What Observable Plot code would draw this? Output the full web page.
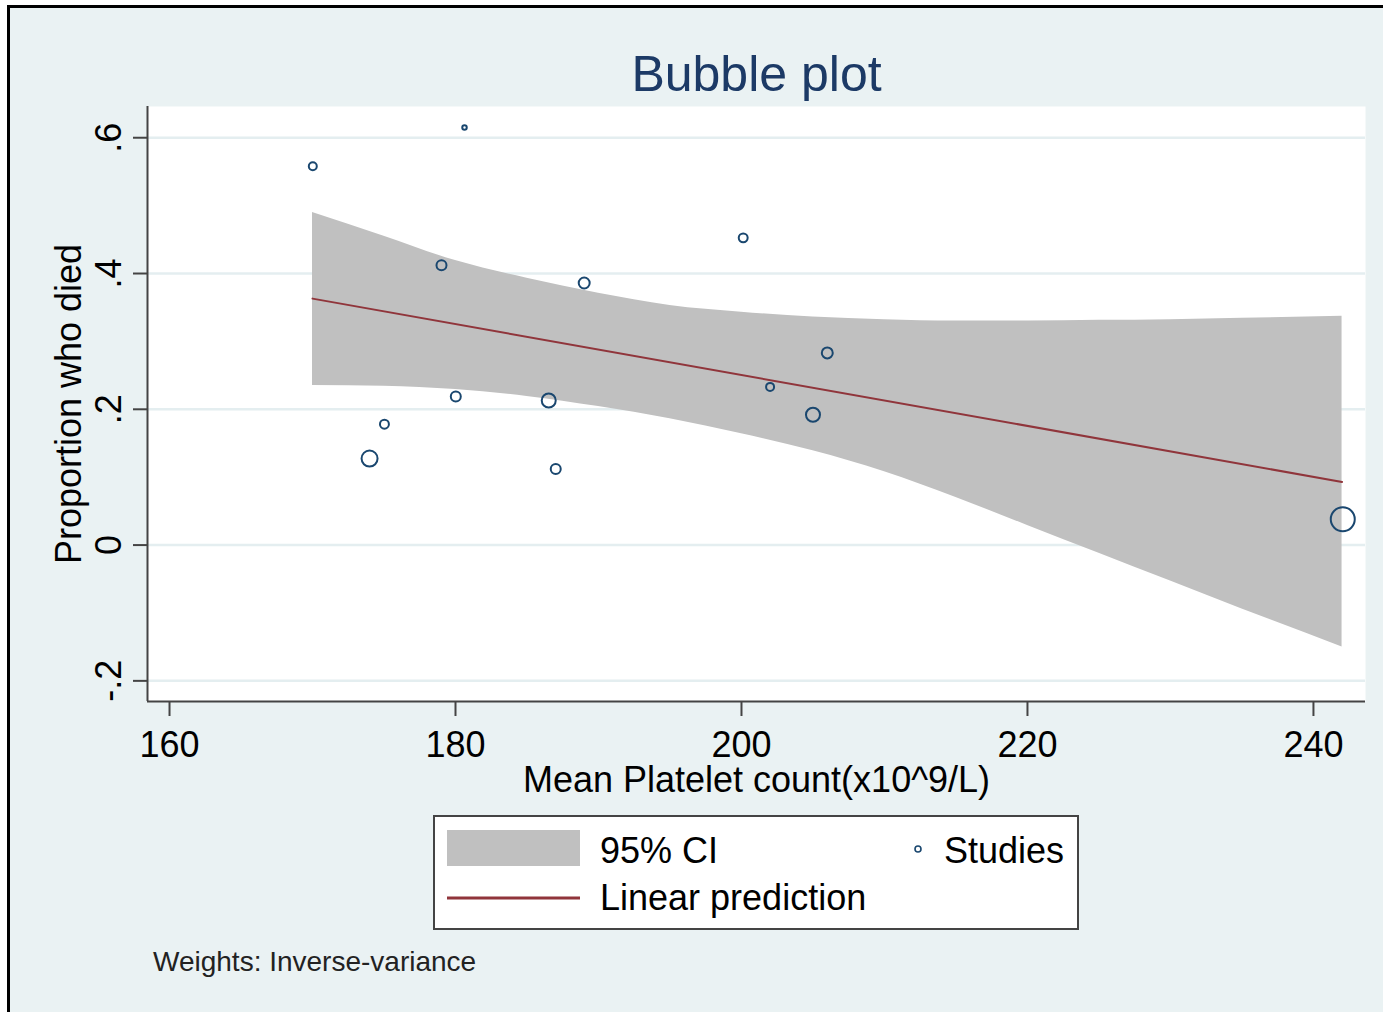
<!DOCTYPE html>
<html>
<head>
<meta charset="utf-8">
<script src="https://cdn.jsdelivr.net/npm/d3@7"></script>
<script src="https://cdn.jsdelivr.net/npm/@observablehq/plot@0.6"></script>
<style>
  html, body { margin: 0; padding: 0; background: #ffffff; width: 1383px; height: 1012px; overflow: hidden;
    font-family: "Liberation Sans", Arial, sans-serif; }
  #page { position: absolute; left: 7px; top: 5px; width: 1400px; height: 1020px; background: #EAF2F3;
    border-left: 3px solid #000; border-top: 3px solid #000; }
  #chart { position: absolute; left: 0; top: 0; }
  #overlay { position: absolute; left: 0; top: 0; }
</style>
</head>
<body>
<div id="page"></div>
<div id="chart"></div>
<script>
// ---- Data ----
const studyX = [170.02, 180.63, 179.02, 189.0, 200.12, 206.0, 202.0, 205.0, 180.02, 186.52, 175.03, 173.99, 187.01, 242.05];
const studyY = [0.558, 0.615, 0.412, 0.386, 0.4525, 0.283, 0.233, 0.192, 0.219, 0.213, 0.178, 0.1275, 0.112, 0.038];
const studyWeight = [16, 5, 25, 30, 20, 30, 16, 49, 25, 49, 20, 64, 25, 144];

const ciX     = [170, 175, 180, 185, 190, 195, 200, 205, 210, 215, 220, 225, 230, 235, 242];
const ciUpper = [0.490, 0.455, 0.419, 0.393, 0.371, 0.353, 0.343, 0.336, 0.332, 0.330, 0.330, 0.331, 0.332, 0.334, 0.337];
const ciLower = [0.235, 0.234, 0.229, 0.219, 0.204, 0.186, 0.164, 0.139, 0.108, 0.070, 0.029, -0.012, -0.053, -0.094, -0.150];

const fitX = [170, 242];
const fitY = [0.363, 0.093];

const xTicks = [160, 180, 200, 220, 240];
const xTickLabels = ["160", "180", "200", "220", "240"];
const yTicks = [-0.2, 0, 0.2, 0.4, 0.6];
const yTickLabels = ["-.2", "0", ".2", ".4", ".6"];
const xDomain = [158.46, 243.64];
const yDomain = [-0.2304, 0.646];

const titleText = "Bubble plot";
const xTitle = "Mean Platelet count(x10^9/L)";
const yTitle = "Proportion who died";
const legendLabels = ["95% CI", "Linear prediction", "Studies"];
const captionText = "Weights: Inverse-variance";

// ---- Tables built from the arrays ----
const studies = studyX.map((x, i) => ({x, y: studyY[i], w: studyWeight[i]}));
const ciTable = ciX.map((x, i) => ({x, lo: ciLower[i], hi: ciUpper[i]}));
const fitTable = fitX.map((x, i) => ({x, y: fitY[i]}));

const colBand = "#C0C0C0", colLine = "#90353B", colDot = "#1A476F", colAxis = "#444444";

const plot = Plot.plot({
  width: 1383,
  height: 800,
  marginLeft: 147,
  marginRight: 18,
  marginTop: 106,
  marginBottom: 99,
  style: {background: "transparent", fontFamily: "Liberation Sans, Arial, sans-serif", overflow: "visible", color: "#000"},
  x: {domain: xDomain},
  y: {domain: yDomain},
  r: {type: "sqrt", domain: [0, 144], range: [0, 12]},
  marks: [
    Plot.frame({fill: "white", stroke: "none"}),
    Plot.gridY(yTicks, {stroke: "#E4EEF0", strokeOpacity: 1, strokeWidth: 2.5}),
    Plot.areaY(ciTable, {x: "x", y1: "lo", y2: "hi", fill: colBand, fillOpacity: 1, curve: "monotone-x"}),
    Plot.line(fitTable, {x: "x", y: "y", stroke: colLine, strokeWidth: 2}),
    Plot.dot(studies, {x: "x", y: "y", r: "w", stroke: colDot, strokeWidth: 2, fill: "none"}),
    Plot.axisX({ticks: xTicks, tickFormat: d => xTickLabels[xTicks.indexOf(d)], tickSize: 15, tickPadding: 15,
      fontSize: 36, label: null, stroke: colAxis, strokeWidth: 2, fill: "#000"}),
    Plot.axisY({ticks: yTicks, tickFormat: d => yTickLabels[yTicks.indexOf(d)], tickSize: 14, tickPadding: 13,
      tickRotate: -90, fontSize: 36, label: null, stroke: colAxis, strokeWidth: 2, fill: "#000"}),
    Plot.ruleX([xDomain[0]], {stroke: colAxis, strokeWidth: 2}),
    Plot.ruleY([yDomain[0]], {stroke: colAxis, strokeWidth: 2}),
    Plot.text([titleText], {text: d => d, frameAnchor: "top", dy: -16, lineAnchor: "bottom", fontSize: 50, fill: "#1c3a66"}),
    Plot.text([xTitle], {text: d => d, frameAnchor: "bottom", dy: 90, lineAnchor: "bottom", fontSize: 36, fill: "#000"}),
    Plot.text([yTitle], {text: d => d, frameAnchor: "left", dx: -67, rotate: -90, lineAnchor: "bottom", textAnchor: "middle", fontSize: 36, fill: "#000"})
  ]
});
document.getElementById("chart").appendChild(plot);

// ---- Legend and caption (below the plot) ----
const L = d3.select("body").append("svg").attr("id", "overlay").attr("width", 1383).attr("height", 1012)
  .style("font-family", "Liberation Sans, Arial, sans-serif");
L.append("rect").attr("x", 434).attr("y", 816).attr("width", 644).attr("height", 113)
  .attr("fill", "white").attr("stroke", colAxis).attr("stroke-width", 2);
L.append("rect").attr("x", 447).attr("y", 830).attr("width", 133).attr("height", 36).attr("fill", colBand);
L.append("line").attr("x1", 447).attr("x2", 580).attr("y1", 898).attr("y2", 898).attr("stroke", colLine).attr("stroke-width", 3);
L.append("circle").attr("cx", 918).attr("cy", 849).attr("r", 3).attr("fill", "none").attr("stroke", colDot).attr("stroke-width", 1.6);
L.append("text").attr("x", 600).attr("y", 863).attr("font-size", 36).text(legendLabels[0]);
L.append("text").attr("x", 600).attr("y", 910).attr("font-size", 36).text(legendLabels[1]);
L.append("text").attr("x", 944).attr("y", 863).attr("font-size", 36).text(legendLabels[2]);
L.append("text").attr("x", 153).attr("y", 971).attr("font-size", 28).attr("fill", "#222").text(captionText);
</script>
</body>
</html>
